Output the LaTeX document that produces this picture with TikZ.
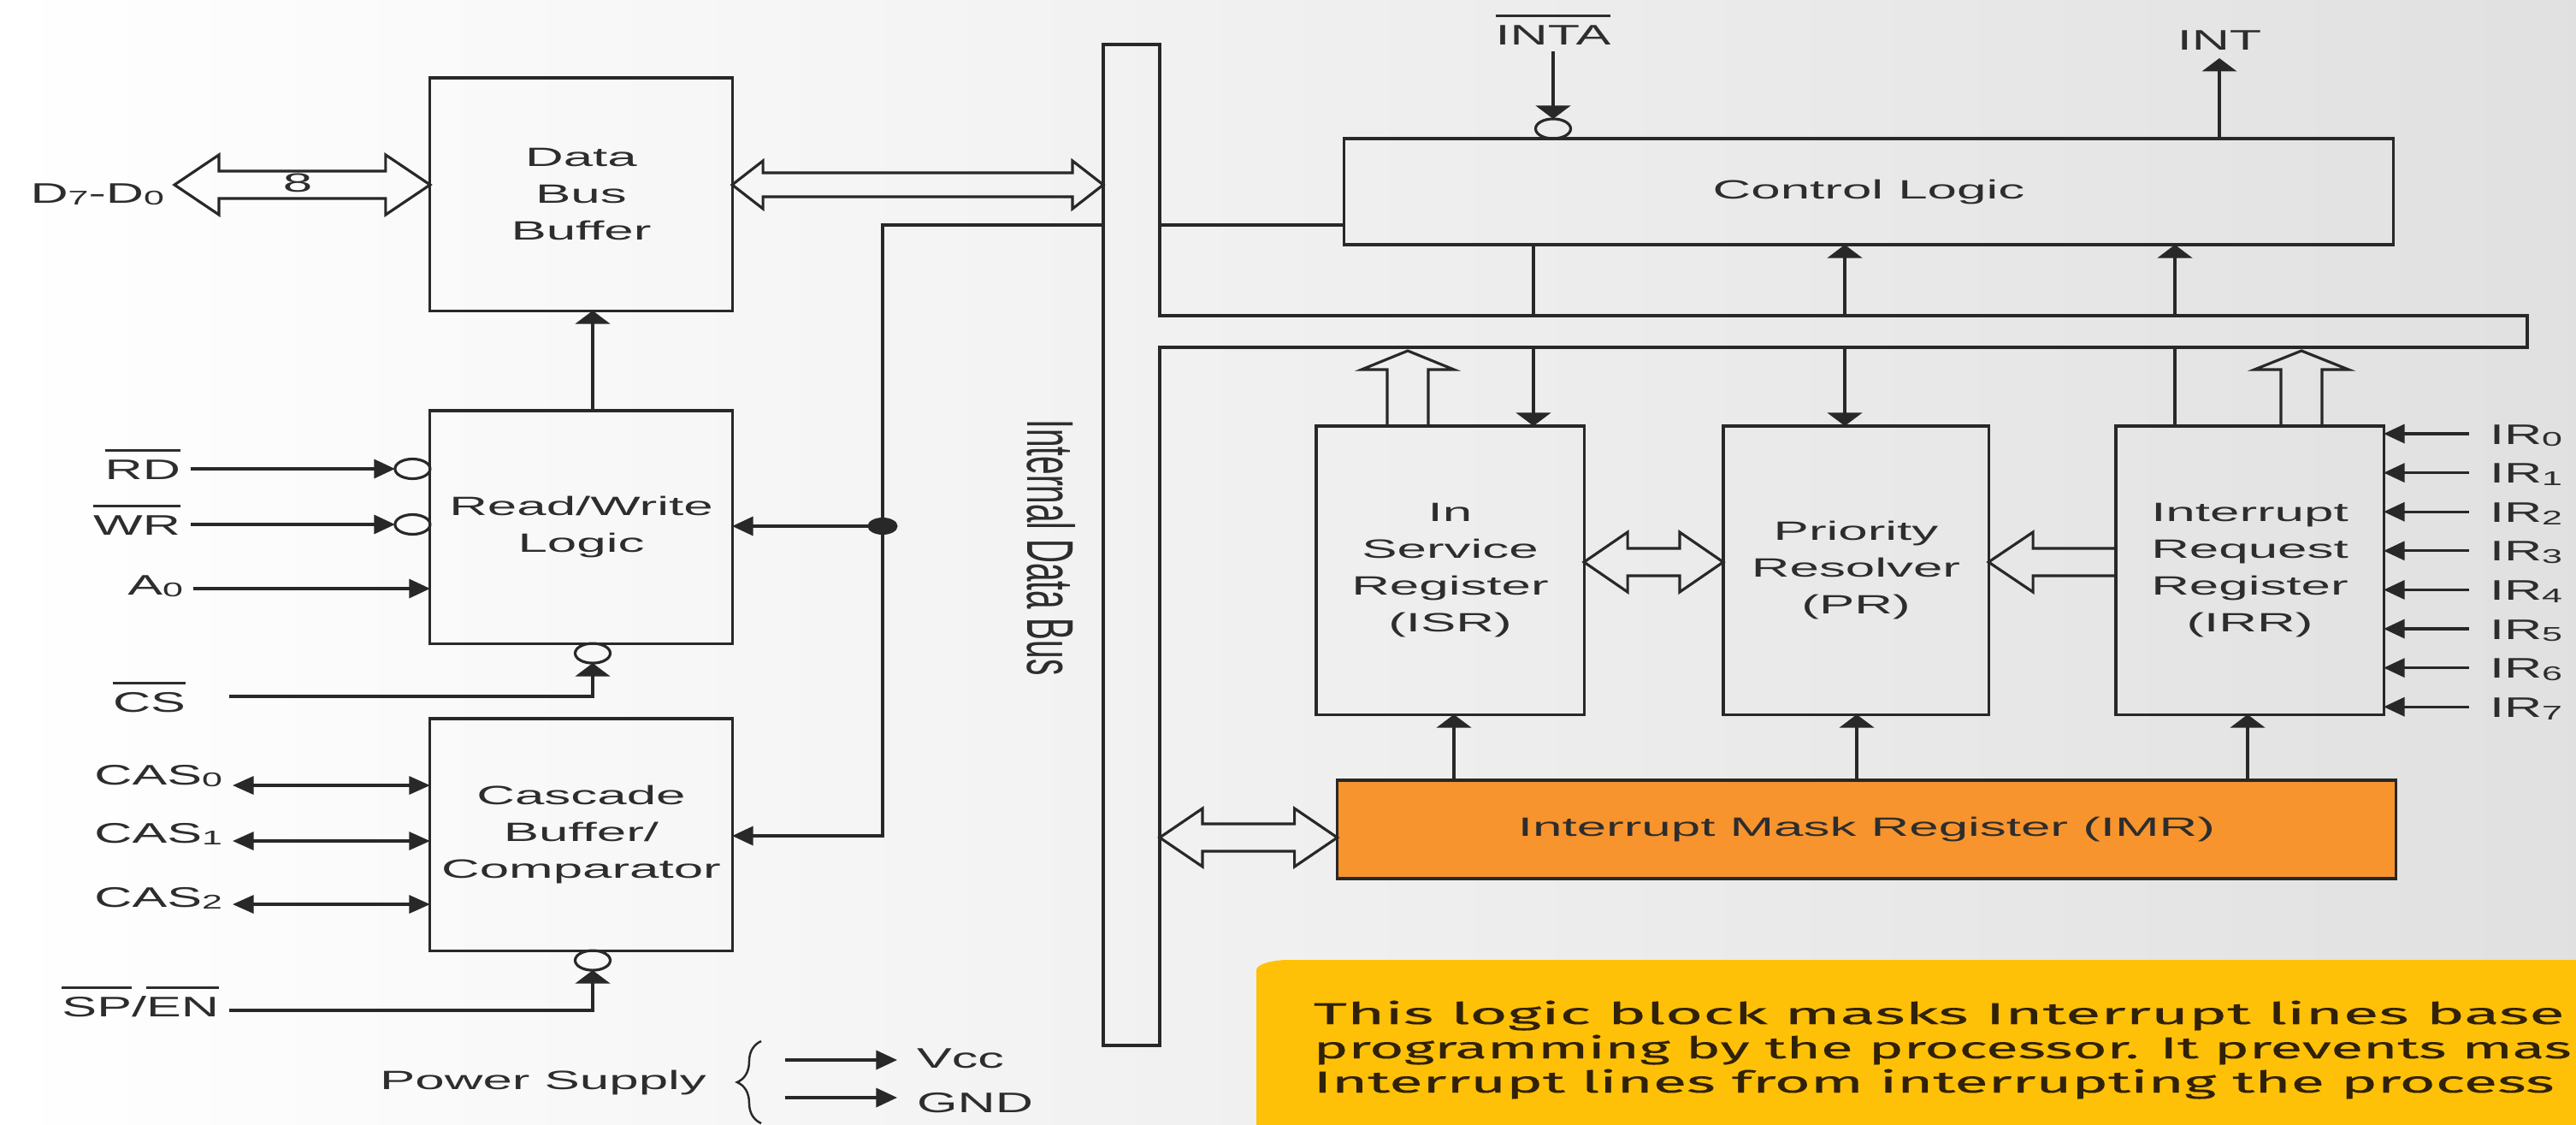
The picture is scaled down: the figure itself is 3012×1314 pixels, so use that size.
\documentclass[tikz,border=0pt]{standalone}
\usepackage{graphicx}
\usepackage{fontspec}
\setmainfont{Liberation Sans}
\newfontfamily\bfnt[FakeStretch=2]{Liberation Sans}
\newfontfamily\lfnt[FakeStretch=1.85]{Liberation Sans}
\newfontfamily\rfnt{Liberation Sans}
\newfontfamily\yfnt[FakeBold=0.3]{Fira Sans}
\usetikzlibrary{arrows.meta,calc,shapes.geometric,decorations.pathreplacing}
\definecolor{lc}{RGB}{40,40,40}
\definecolor{txt}{RGB}{45,45,45}
\definecolor{imrc}{RGB}{247,148,46}
\definecolor{ybox}{RGB}{255,193,7}
\definecolor{ytxt}{RGB}{48,33,8}
\newcommand\ovl[1]{\vbox{\hrule height 0.8pt\kern 2.6pt\hbox{#1}}}
\newcommand\sbs[1]{\raisebox{-0.8pt}{\fontsize{6.6pt}{7pt}\selectfont #1}}
% hollow double arrow: left tip, right tip, half head, half body, head length
\newcommand\hdarrow[5]{%
 \draw[hol] (#1) -- ($(#1)+(#5,-#3)$) -- ($(#1)+(#5,-#4)$) -- ($(#2)+(-#5,-#4)$) -- ($(#2)+(-#5,-#3)$) -- (#2) -- ($(#2)+(-#5,#3)$) -- ($(#2)+(-#5,#4)$) -- ($(#1)+(#5,#4)$) -- ($(#1)+(#5,#3)$) -- cycle;}
% hollow left arrow: tip, base
\newcommand\hlarrow[5]{%
 \draw[hol] ($(#2)+(0,-#4)$) -- ($(#1)+(#5,-#4)$) -- ($(#1)+(#5,-#3)$) -- (#1) -- ($(#1)+(#5,#3)$) -- ($(#1)+(#5,#4)$) -- ($(#2)+(0,#4)$);}
% hollow up arrow: base, tip
\newcommand\huparrow[5]{%
 \draw[hol] ($(#1)+(-#4,0)$) -- ($(#2)+(-#4,#5)$) -- ($(#2)+(-#3,#5)$) -- (#2) -- ($(#2)+(#3,#5)$) -- ($(#2)+(#4,#5)$) -- ($(#1)+(#4,0)$);}
\begin{document}
\begin{tikzpicture}[x=0.01cm, y=-0.01cm,
  ln/.style={draw=lc, line width=0.9pt},
  hol/.style={draw=lc, line width=0.9pt, line join=miter},
  ah/.style={ln, -{Triangle[length=7pt,width=6.3pt]}},
  av/.style={ln, -{Triangle[length=4.4pt,width=11.5pt]}},
  ahh/.style={ln, {Triangle[length=7pt,width=6pt]}-{Triangle[length=7pt,width=6pt]}},
  blk/.style={draw=lc, line width=0.9pt, inner sep=0pt, outer sep=0pt, align=center, text=txt,
              font=\bfnt\fontsize{8.8pt}{12.2pt}\selectfont},
  bub/.style={ellipse, draw=lc, line width=0.9pt, minimum width=0.41cm, minimum height=0.23cm, inner sep=0pt, outer sep=0pt},
  dotst/.style={ellipse, fill=lc, minimum width=0.35cm, minimum height=0.2cm, inner sep=0pt},
  lbl/.style={inner xsep=0.12cm, inner ysep=0pt, outer sep=0pt, text=txt, font=\lfnt\fontsize{9.4pt}{11pt}\selectfont},
  ytx/.style={inner sep=0pt, text=ytxt, font=\yfnt\fontsize{10pt}{11pt}\selectfont}
]
\useasboundingbox (0,0) rectangle (3012,1314);
\clip (0,0) rectangle (3012,1314);
\fill[left color=white, right color=black!12] (0,0) rectangle (3012,1314);

% ---- coordinates
\coordinate (yRD) at (0,548);
\coordinate (yWR) at (0,613);
\coordinate (yA0) at (0,688);
\coordinate (yCS) at (0,814);
\coordinate (xRW) at (693,0);
\coordinate (yC0) at (0,918);
\coordinate (yC1) at (0,983);
\coordinate (yC2) at (0,1057);
\coordinate (ySP) at (0,1181);
\coordinate (yV) at (0,1239);
\coordinate (yG) at (0,1283);
\coordinate (psx) at (918,0);
\coordinate (psb) at (890,1313);
\coordinate (pst) at (890,1217);
\coordinate (yJ) at (0,263);
\coordinate (xJ) at (1032,0);
\coordinate (yDot) at (0,615);
\coordinate (yCi) at (0,977);
\coordinate (bt) at (0,369);
\coordinate (bb) at (0,406);
\coordinate (bl) at (1290,0);
\coordinate (br) at (1356,0);
\coordinate (xL1) at (1793,0);
\coordinate (xL2) at (2157,0);
\coordinate (xL3) at (2543,0);
\coordinate (xB1) at (1700,0);
\coordinate (xB2) at (2171,0);
\coordinate (xB3) at (2628,0);
\coordinate (yA1) at (0,216);
\coordinate (yM) at (0,657);
\coordinate (yI) at (0,979);
\coordinate (xH1) at (1646,0);
\coordinate (xH2) at (2691,0);
\coordinate (yT) at (0,410);

% ---- internal data bus
\draw[ln] (1290,52) -- (1356,52) -- (1356,369) -- (2955,369) -- (2955,406) -- (1356,406) -- (1356,1222) -- (1290,1222) -- cycle;
\node[rotate=-90, inner sep=0pt, text=txt] (idb) at (1229,640) {\scalebox{1}[2]{\rfnt\fontsize{11pt}{13pt}\selectfont Internal Data Bus}};

% ---- blocks
\node[blk, minimum width=3.53cm, minimum height=2.72cm] (dbb) at (679.5,227) {Data\\Bus\\Buffer};
\node[blk, minimum width=3.53cm, minimum height=2.72cm] (rw) at (679.5,616) {Read/Write\\Logic};
\node[blk, minimum width=3.53cm, minimum height=2.71cm] (cas) at (679.5,975.5) {Cascade\\Buffer/\\Comparator};
\node[blk, minimum width=12.26cm, minimum height=1.24cm] (cl) at (2185,224) {Control Logic};
\node[blk, minimum width=3.13cm, minimum height=3.37cm] (isr) at (1695.5,666.5) {In\\Service\\Register\\(ISR)};
\node[blk, minimum width=3.10cm, minimum height=3.37cm] (pr) at (2170,666.5) {Priority\\Resolver\\(PR)};
\node[blk, minimum width=3.13cm, minimum height=3.37cm] (irr) at (2630.5,666.5) {Interrupt\\Request\\Register\\(IRR)};
\node[blk, fill=imrc, minimum width=12.37cm, minimum height=1.15cm] (imr) at (2182.5,969.5) {Interrupt Mask Register (IMR)};

% ---- labels
\node[lbl, anchor=base east] (dlbl) at (204,237) {D\sbs{7}-D\sbs{0}};
\node[inner sep=0pt, text=txt, font=\bfnt\fontsize{8.8pt}{10pt}\selectfont] (eight) at (348,214) {8};
\node[lbl, anchor=base east] (rdl) at (223,560) {\ovl{RD}};
\node[lbl, anchor=base east] (wrl) at (223,625) {\ovl{WR}};
\node[lbl, anchor=base east] (a0l) at (226,695) {A\sbs{0}};
\node[lbl, anchor=base east] (csl) at (229,832) {\ovl{CS}};
\node[lbl, anchor=base east] (c0l) at (272,917) {CAS\sbs{0}};
\node[lbl, anchor=base east] (c1l) at (272,985) {CAS\sbs{1}};
\node[lbl, anchor=base east] (c2l) at (272,1060) {CAS\sbs{2}};
\node[lbl, anchor=base east] (spl) at (268,1188) {\ovl{SP}/\ovl{EN}};
\node[lbl, font=\bfnt\fontsize{8.8pt}{11pt}\selectfont, anchor=base east] (pwr) at (838,1273) {Power Supply};
\node[lbl, inner xsep=0.23cm, anchor=base west] (vcc) at (1049,1248) {Vcc};
\node[lbl, inner xsep=0.23cm, anchor=base west] (gnd) at (1049,1300) {GND};
\node[lbl, anchor=base] (inta) at (1816,52) {\ovl{INTA}};
\node[lbl, anchor=base] (intl) at (2595,58) {INT};
\foreach \k in {0,...,7}{
  \coordinate (yir\k) at (0,{507+45.6*\k});
  \node[lbl, inner xsep=0.24cm, anchor=base west] (ir\k) at (2887,{519+45.6*\k}) {IR\sbs{\k}};
  \draw[ah] (ir\k.west |- yir\k) -- (irr.east |- yir\k);
}

% ---- left side wiring
\hdarrow{dlbl.east |- yA1}{dbb.west |- yA1}{35}{16}{52}
\hdarrow{dbb.east |- yA1}{bl |- yA1}{28}{14}{36}
\draw[av] (rw.north -| xRW) -- (dbb.south -| xRW);
\node[bub, anchor=east] (rdb) at (rw.west |- yRD) {};
\node[bub, anchor=east] (wrb) at (rw.west |- yWR) {};
\draw[ah] (rdl.east |- yRD) -- (rdb.west);
\draw[ah] (wrl.east |- yWR) -- (wrb.west);
\draw[ah] (a0l.east |- yA0) -- (rw.west |- yA0);
\node[bub, anchor=north] (csb) at (rw.south -| xRW) {};
\draw[av] ($(csl.east |- yCS)+(39,0)$) -- (yCS -| csb.south) -- (csb.south);
\draw[ahh] (c0l.east |- yC0) -- (cas.west |- yC0);
\draw[ahh] (c1l.east |- yC1) -- (cas.west |- yC1);
\draw[ahh] (c2l.east |- yC2) -- (cas.west |- yC2);
\node[bub, anchor=north] (cbb) at (cas.south -| xRW) {};
\draw[av] (spl.east |- ySP) -- (ySP -| cbb.south) -- (cbb.south);
\draw[ln, line width=0.7pt, decorate, decoration={brace, amplitude=8pt}] (psb) -- (pst);
\draw[ah] (psx |- yV) -- (vcc.west |- yV);
\draw[ah] (psx |- yG) -- (gnd.west |- yG);

% ---- junction to bus
\draw[ah] (bl |- yJ) -- (xJ |- yJ) -- (xJ |- yCi) -- (cas.east |- yCi);
\draw[ah] (xJ |- yDot) -- (rw.east |- yDot);
\node[dotst] (jdot) at (xJ |- yDot) {};
\draw[ln] (br |- yJ) -- (cl.west |- yJ);

% ---- control logic
\node[bub, anchor=south] (intab) at (cl.north -| inta.base) {};
\draw[av] ($(inta.base)+(0,8)$) -- (intab.north);
\draw[av] (cl.north -| intl.base) -- ($(intl.base)+(0,10)$);
\draw[ln] (cl.south -| xL1) -- (bt -| xL1);
\draw[av] (bb -| xL1) -- (isr.north -| xL1);
\draw[av] (bt -| xL2) -- (cl.south -| xL2);
\draw[av] (bb -| xL2) -- (pr.north -| xL2);
\draw[av] (bt -| xL3) -- (cl.south -| xL3);
\draw[ln] (irr.north -| xL3) -- (bb -| xL3);

% ---- registers
\huparrow{isr.north -| xH1}{yT -| xH1}{54}{24}{22}
\huparrow{irr.north -| xH2}{yT -| xH2}{55}{24}{22}
\hdarrow{isr.east |- yM}{pr.west |- yM}{35}{16}{51}
\hlarrow{pr.east |- yM}{irr.west |- yM}{35}{16}{52}
\hdarrow{br |- yI}{imr.west |- yI}{34}{16}{50}
\draw[av] (imr.north -| xB1) -- (isr.south -| xB1);
\draw[av] (imr.north -| xB2) -- (pr.south -| xB2);
\draw[av] (imr.north -| xB3) -- (irr.south -| xB3);

% ---- note box
\fill[ybox] (1469,1340) -- (1469,1134) arc[start angle=180, end angle=90, x radius=0.38cm, y radius=0.12cm] -- (3040,1122) -- (3040,1340) -- cycle;
\node[ytx, anchor=base west] (y1) at (1535,1197) {\resizebox{14.62cm}{\height}{This logic block masks Interrupt lines base}};
\node[ytx, anchor=base west] (y2) at (1535,1237) {\resizebox{14.70cm}{\height}{programming by the processor. It prevents mas}};
\node[ytx, anchor=base west] (y3) at (1535,1277) {\resizebox{14.50cm}{\height}{Interrupt lines from interrupting the process}};
\end{tikzpicture}
\end{document}
